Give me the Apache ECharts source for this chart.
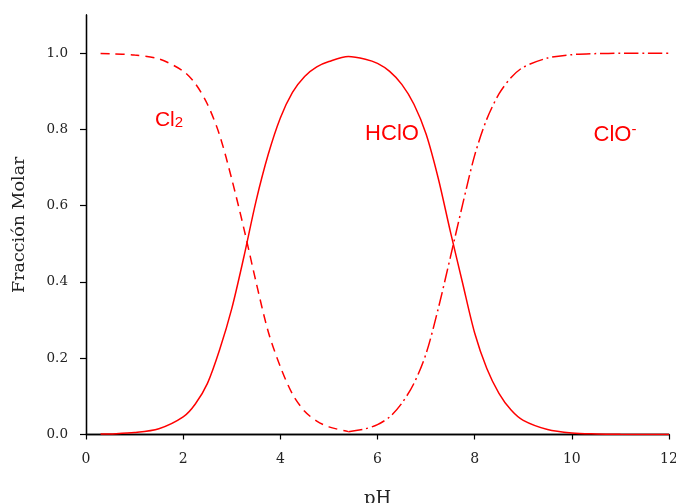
<!DOCTYPE html>
<html>
<head>
<meta charset="utf-8">
<script src="https://cdn.jsdelivr.net/npm/echarts@6/dist/echarts.min.js"></script>
<style>html,body{margin:0;padding:0;background:#fff}#c{width:676px;height:503px}</style>
</head>
<body>
<div id="c"></div>
<script>
const pH = [0.3,0.5,1.0,1.5,2.0,2.25,2.5,2.75,3.0,3.25,3.5,3.75,4.0,4.25,4.5,4.75,5.0,5.4,5.75,6.0,6.25,6.5,6.75,7.0,7.25,7.5,7.75,8.0,8.25,8.5,8.75,9.0,9.5,10.0,10.5,11.0,11.5,12.0];
const hclo = [0.001,0.0016,0.005,0.015,0.046,0.080,0.134,0.222,0.330,0.466,0.612,0.734,0.830,0.897,0.939,0.964,0.978,0.991,0.984,0.973,0.952,0.918,0.866,0.788,0.672,0.532,0.398,0.266,0.173,0.108,0.064,0.037,0.013,0.004,0.0015,0.0005,0.0002,0.0001];
const pHCl2 = [0.3,0.5,1.0,1.5,2.0,2.25,2.5,2.75,3.0,3.25,3.5,3.75,4.0,4.25,4.5,4.75,5.0,5.4];
const cl2 = [0.999,0.9984,0.995,0.985,0.953,0.920,0.866,0.785,0.670,0.540,0.400,0.270,0.178,0.106,0.061,0.035,0.020,0.0075];
const pHClO = [5.4,5.75,6.0,6.25,6.5,6.75,7.0,7.25,7.5,7.75,8.0,8.25,8.5,8.75,9.0,9.5,10.0,10.5,11.0,11.5,12.0];
const clo = [0.0075,0.015,0.026,0.046,0.082,0.134,0.212,0.330,0.465,0.602,0.732,0.827,0.893,0.936,0.963,0.987,0.996,0.9988,0.9996,0.9999,1.0];
const xTicks = [0,2,4,6,8,10,12];
const yTicks = [0,0.2,0.4,0.6,0.8,1.0];
const xTitle = 'pH';
const yTitle = 'Fracción Molar';

const zip = (xs, ys) => xs.map((x, i) => [x, ys[i]]);
const RED = '#ff0000';
const chart = echarts.init(document.getElementById('c'));
const serif = 'DejaVu Serif';
chart.setOption({
  animation: false,
  grid: { left: 86, right: 7, top: 15, bottom: 68.5, outerBoundsMode: 'none', containLabel: false },
  xAxis: [{
    type: 'value', min: 0, max: 12, interval: 2,
    axisLine: { lineStyle: { color: '#000', width: 1.3 } },
    axisTick: { length: 5, lineStyle: { color: '#000', width: 1.2 }, customValues: xTicks },
    axisLabel: { customValues: xTicks, margin: 18, color: '#222', fontFamily: serif, fontSize: 14 },
    splitLine: { show: false },
    name: xTitle, nameLocation: 'middle', nameGap: 56,
    nameTextStyle: { fontFamily: serif, fontSize: 18, color: '#222' }
  }, {
    type: 'value', min: 0, max: 12, position: 'top',
    axisLine: { show: true, lineStyle: { color: '#000', width: 1.3 } },
    axisTick: { show: false }, axisLabel: { show: false }, splitLine: { show: false }
  }],
  yAxis: [{
    type: 'value', min: 0, max: 1.1, offset: 4,
    axisLine: { show: true, lineStyle: { color: '#000', width: 1.3 } },
    axisTick: { show: true, length: 6, lineStyle: { color: '#000', width: 1.2 }, customValues: yTicks },
    axisLabel: { customValues: yTicks, margin: 14, color: '#222', fontFamily: serif, fontSize: 13.5,
      formatter: v => v.toFixed(1) },
    splitLine: { show: false },
    name: yTitle, nameLocation: 'middle', nameGap: 54, nameRotate: 90,
    nameTextStyle: { fontFamily: serif, fontSize: 17.5, color: '#222' }
  }, {
    type: 'value', min: 0, max: 1.1, position: 'right',
    axisLine: { show: true, lineStyle: { color: '#000', width: 1.3 } },
    axisTick: { show: false }, axisLabel: { show: false }, splitLine: { show: false }
  }],
  series: [{
    name: 'HClO', type: 'line', data: zip(pH, hclo), showSymbol: false, smooth: 0.3,
    lineStyle: { color: RED, width: 1.5, type: 'solid' }
  }, {
    name: 'Cl2', type: 'line', data: zip(pHCl2, cl2), showSymbol: false, smooth: 0.3,
    lineStyle: { color: RED, width: 1.5, type: [9, 6] }
  }, {
    name: 'ClO-', type: 'line', data: zip(pHClO, clo), showSymbol: false, smooth: 0.3,
    lineStyle: { color: RED, width: 1.5, type: [14, 4, 2, 4] }
  }],
  graphic: [{
    type: 'text', x: 169, y: 120,
    style: { text: 'Cl{s|2}', fill: RED, font: '21px "Liberation Sans"', align: 'center', verticalAlign: 'middle',
      rich: { s: { fontSize: 15, fontFamily: 'Liberation Sans', fill: RED, padding: [6, 0, 0, 0] } } }
  }, {
    type: 'text', x: 392, y: 134,
    style: { text: 'HClO', fill: RED, font: '22px "Liberation Sans"', align: 'center', verticalAlign: 'middle' }
  }, {
    type: 'text', x: 615, y: 135,
    style: { text: 'ClO{s|-}', fill: RED, font: '22px "Liberation Sans"', align: 'center', verticalAlign: 'middle',
      rich: { s: { fontSize: 15, fontFamily: 'Liberation Sans', fill: RED, padding: [0, 0, 10, 0] } } }
  }]
});
</script>
</body>
</html>
